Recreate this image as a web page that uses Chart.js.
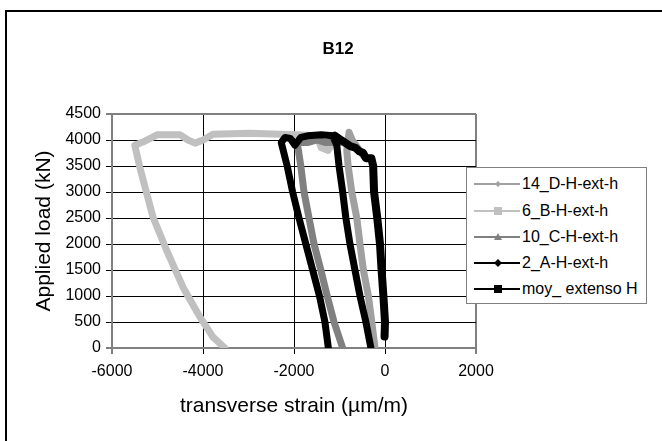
<!DOCTYPE html>
<html>
<head>
<meta charset="utf-8">
<script src="https://cdn.jsdelivr.net/npm/chart.js@4.4.0/dist/chart.umd.min.js"></script>
<style>
html, body { margin:0; padding:0; width:662px; height:441px; overflow:hidden; background:#fff; }
#frame { position:absolute; left:5px; top:10px; width:720px; height:520px; border:2px solid #000; box-sizing:border-box; }
#wrap { position:absolute; left:0; top:0; width:662px; height:441px; }
#title { position:absolute; left:0; width:676px; top:39px; text-align:center; font:bold 17px "Liberation Sans", Arial, sans-serif; }
#legend { position:absolute; left:466px; top:167px; width:181px; height:137px; border:1px solid #808080; background:#fff; box-sizing:border-box; font:16px "Liberation Sans", Arial, sans-serif; }
.row { position:absolute; left:5px; height:20px; display:flex; align-items:center; white-space:nowrap; }
.row svg { margin-right:2px; }
</style>
</head>
<body>
<div id="frame"></div>
<div id="wrap"><canvas id="c" width="662" height="441"></canvas></div>
<div id="title">B12</div>
<div id="legend"></div>
<script>
// (strain in µm/m, load in kN)
const strain14 = [-220, -290, -365, -475, -550, -620, -730, -810, -840, -790, -720, -600, -480];
const load14   = [0, 500, 1000, 1500, 2000, 2500, 3000, 3500, 3800, 4150, 4000, 3850, 3700];

const strain6 = [-3520, -3780, -4070, -4440, -4800, -5100, -5390, -5500, -5320, -5010, -4500, -4330, -4175, -4000, -3780, -2970, -2310, -1900, -1500, -1400, -1250, -1150];
const load6   = [0, 210, 600, 1170, 1880, 2520, 3480, 3900, 3960, 4100, 4100, 4000, 3940, 4000, 4110, 4130, 4110, 4100, 4080, 3850, 3800, 3950];

const strain10 = [-1000, -1300, -1500, -1700, -1930, -1850, -1780, -1670, -1560, -1410, -1270, -1120, -930];
const load10   = [3950, 3950, 4000, 3950, 3950, 3500, 3000, 2500, 2000, 1500, 1000, 500, 0];

const strain2 = [-310, -420, -550, -660, -770, -860, -930, -1010, -1060, -1150, -1400, -1700, -1850, -1980, -2080, -2200, -2280, -2150, -2030, -1890, -1740, -1590, -1440, -1320, -1245];
const load2   = [0, 500, 1000, 1500, 2000, 2500, 3000, 3500, 3900, 4080, 4100, 4080, 4050, 3900, 4030, 4050, 3950, 3500, 3000, 2500, 2000, 1500, 1000, 500, 0];

const strainMoy = [-10, 0, -35, -75, -110, -170, -240, -260, -300, -420, -480, -560, -650, -760, -880, -1000, -1100];
const loadMoy   = [220, 500, 1000, 1500, 2000, 2500, 3000, 3500, 3650, 3650, 3750, 3780, 3850, 3880, 3950, 4020, 4080];

const xTicks = [-6000, -4000, -2000, 0, 2000];
const yTicks = [0, 500, 1000, 1500, 2000, 2500, 3000, 3500, 4000, 4500];

function pts(xs, ys) {
    return xs.map((x, i) => ({x: x, y: ys[i]}));
}

const series = [
    {label: '14_D-H-ext-h', data: pts(strain14, load14), color: '#a0a0a0', marker: 'diamond', size: 3, width: 7, order: 4},
    {label: '6_B-H-ext-h', data: pts(strain6, load6), color: '#c0c0c0', marker: 'square', size: 4, width: 7, order: 3},
    {label: '10_C-H-ext-h', data: pts(strain10, load10), color: '#808080', marker: 'triangle', size: 4, width: 7, order: 2},
    {label: '2_A-H-ext-h', data: pts(strain2, load2), color: '#000000', marker: 'diamond', size: 4, width: 7, order: 1},
    {label: 'moy_ extenso H', data: pts(strainMoy, loadMoy), color: '#000000', marker: 'square', size: 4, width: 8, order: 0},
];

const datasets = series.map((s) => ({
    label: s.label,
    data: s.data,
    showLine: true,
    borderColor: s.color,
    backgroundColor: s.color,
    borderWidth: s.width,
    borderJoinStyle: 'round',
    borderCapStyle: 'round',
    pointRadius: 0,
    order: s.order,
}));

Chart.defaults.font.family = "'Liberation Sans', Arial, sans-serif";
Chart.defaults.color = '#000';

const edge = (v, a, b) => v === a || v === b;

new Chart(document.getElementById('c').getContext('2d'), {
    type: 'scatter',
    data: {datasets: datasets},
    options: {
        responsive: false,
        animation: false,
        layout: {padding: {top: 114, right: 186, left: 0, bottom: 0}},
        plugins: {legend: {display: false}, tooltip: {enabled: false}},
        scales: {
            x: {
                type: 'linear', min: -6000, max: 2000,
                afterBuildTicks: (s) => { s.ticks = xTicks.map((v) => ({value: v})); },
                afterFit: (s) => { s.height = 93; },
                border: {color: '#808080', width: 2},
                grid: {
                    color: (c) => edge(c.tick && c.tick.value, -6000, 2000) ? '#808080' : '#000',
                    lineWidth: (c) => edge(c.tick && c.tick.value, -6000, 2000) ? 2 : 1,
                    tickColor: '#000', tickWidth: 1, tickLength: 6,
                },
                ticks: {font: {size: 16}, padding: 8, maxRotation: 0, callback: (v) => String(v)},
                title: {display: true, text: 'transverse strain (µm/m)', font: {size: 21}, padding: {bottom: 22}},
            },
            y: {
                type: 'linear', min: 0, max: 4500,
                afterBuildTicks: (s) => { s.ticks = yTicks.map((v) => ({value: v})); },
                afterFit: (s) => { s.width = 112; },
                border: {color: '#808080', width: 2},
                grid: {
                    color: (c) => edge(c.tick && c.tick.value, 0, 4500) ? '#808080' : '#000',
                    lineWidth: (c) => edge(c.tick && c.tick.value, 0, 4500) ? 2 : 1,
                    tickColor: '#000', tickWidth: 1, tickLength: 6,
                },
                ticks: {font: {size: 16}, padding: 5, callback: (v) => String(v)},
                title: {display: true, text: 'Applied load (kN)', font: {size: 21}, padding: {top: 32}},
            },
        },
    },
});

// legend box
function markerSvg(s) {
    let m = '';
    const cx = 26, cy = 10, r = s.size;
    if (s.marker === 'square') m = `<rect x="${cx - r}" y="${cy - r}" width="${2 * r}" height="${2 * r}" fill="${s.color}"/>`;
    if (s.marker === 'diamond') m = `<polygon points="${cx},${cy - r} ${cx + r},${cy} ${cx},${cy + r} ${cx - r},${cy}" fill="${s.color}"/>`;
    if (s.marker === 'triangle') m = `<polygon points="${cx},${cy - r} ${cx + r},${cy + r - 1} ${cx - r},${cy + r - 1}" fill="${s.color}"/>`;
    return `<svg width="48" height="20"><line x1="2" y1="10" x2="48" y2="10" stroke="${s.color}" stroke-width="2"/>${m}</svg>`;
}
const rowTops = [6, 33, 59, 85, 111];
const legend = document.getElementById('legend');
series.forEach((s, i) => {
    const row = document.createElement('div');
    row.className = 'row';
    row.style.top = rowTops[i] + 'px';
    row.innerHTML = markerSvg(s) + '<span>' + s.label + '</span>';
    legend.appendChild(row);
});
</script>
</body>
</html>
